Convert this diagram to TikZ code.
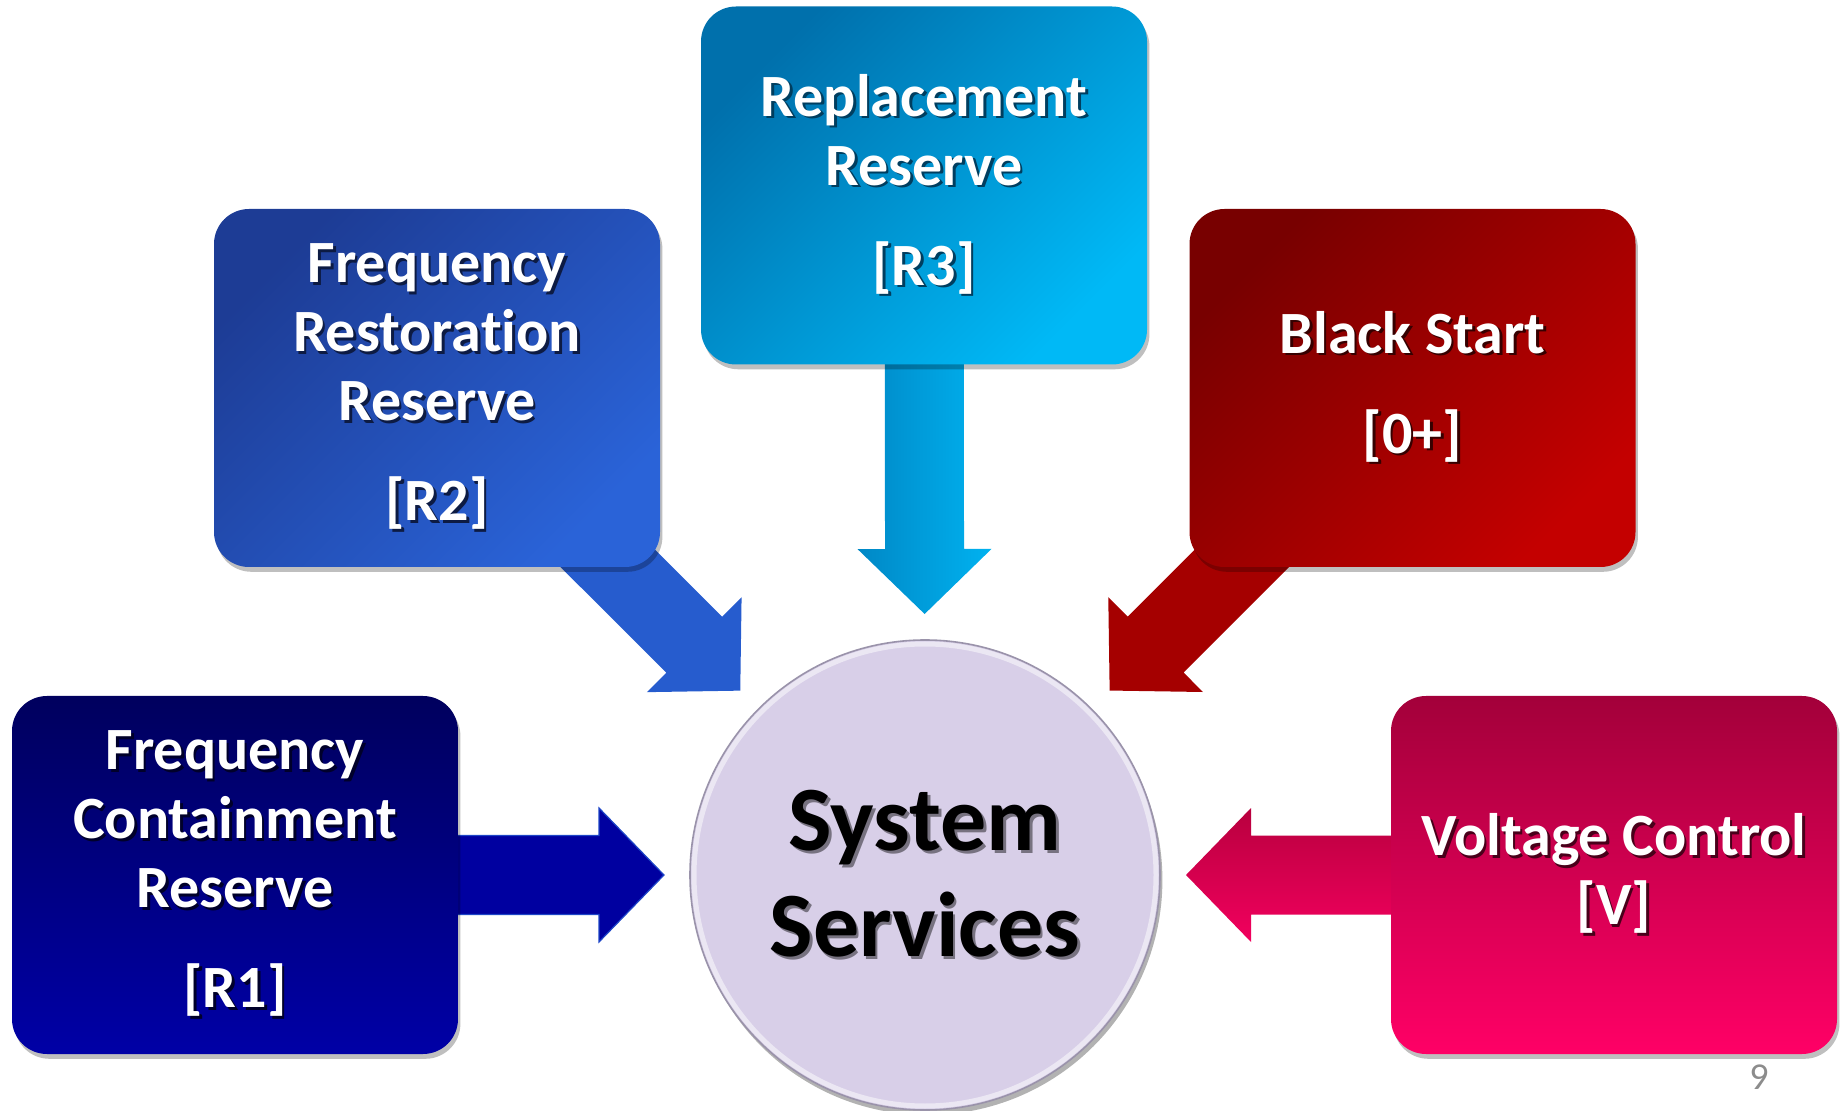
\documentclass[tikz,border=0pt]{standalone}
\usepackage{fontspec}
\setmainfont{Carlito}[Ligatures=NoCommon]
\usetikzlibrary{calc,shadows,backgrounds}
\definecolor{rOneTop}{HTML}{00005E}
\definecolor{rOneBot}{HTML}{0000A6}
\definecolor{rOneArr}{HTML}{0000A0}
\definecolor{rTwoA}{HTML}{1D3C95}
\definecolor{rTwoB}{HTML}{2A63D8}
\definecolor{rTwoArr}{HTML}{265CCE}
\definecolor{rThrA}{HTML}{0070AC}
\definecolor{rThrB}{HTML}{00B9F6}
\definecolor{rThrArrA}{HTML}{0088C6}
\definecolor{rThrArrB}{HTML}{00B2F0}
\definecolor{bsA}{HTML}{780000}
\definecolor{bsB}{HTML}{C40000}
\definecolor{bsArr}{HTML}{A50000}
\definecolor{vTop}{HTML}{A3003A}
\definecolor{vBot}{HTML}{FF0066}
\definecolor{vArrA}{HTML}{B8003E}
\definecolor{vArrB}{HTML}{F2005E}
\definecolor{ssFill}{HTML}{D8CFE8}
\definecolor{ssEdge}{HTML}{9A93AA}
\definecolor{pgnum}{HTML}{8C8C8C}
\colorlet{txtsh}{black!50}
\newcommand\sh[1]{\makebox[0pt][l]{\kern1.3pt\raisebox{-1.3pt}{\textcolor{txtsh}{#1}}}#1}
\newcommand\blockarrow[3]{%
  \coordinate (#2-h) at ($(#2)!32.5pt!(#1)$);
  \path[#3] ($(#1)!19.75pt!90:(#2)$) -- ($(#2-h)!19.75pt!90:(#2)$)
     -- ($(#2-h)!33.5pt!90:(#2)$) -- (#2) -- ($(#2-h)!33.5pt!-90:(#2)$)
     -- ($(#2-h)!19.75pt!-90:(#2)$) -- ($(#1)!19.75pt!-90:(#2)$) -- cycle;
}
\begin{document}
\begin{tikzpicture}[x=0.5pt,y=-0.5pt,
  svcbox/.style={rounded corners=17.5pt, minimum width=223pt, minimum height=179pt,
    inner sep=0pt, text=white, align=center,
    font=\fontsize{30}{34.5}\selectfont\bfseries,
    drop shadow={shadow xshift=1.2pt, shadow yshift=-2.4pt, opacity=0.25, fill=black}},
  shc/.style={execute at begin node={\colorlet{txtsh}{#1}}},
  ssnode/.style={circle, minimum size=235pt, inner sep=0pt, fill=ssFill, draw=ssEdge,
    line width=0.8pt, align=center, font=\fontsize{46}{53}\selectfont\bfseries,
    path picture={\draw[white, opacity=0.5, line width=2.5pt]
      (path picture bounding box.center) circle (115.5pt);},
    drop shadow={shadow xshift=1.2pt, shadow yshift=-2.5pt, opacity=0.3, fill=black}},
  arrowshape/.style={line join=miter}
]
\useasboundingbox (0,0) rectangle (1841,1111);

\node[ssnode, shc=ssFill!55!black] (ss) at (925,875) {\sh{System}\\\sh{Services}};

\node[svcbox, top color=rThrA, bottom color=rThrB, shading angle=45, shc=rThrA!55!black] (r3) at (924,185.5)
  {\sh{Replacement}\\\sh{Reserve}\\[15.5pt]\sh{[R3]}};
\node[svcbox, top color=rTwoA, bottom color=rTwoB, shading angle=45, shc=rTwoA!45!black] (r2) at (437,388)
  {\sh{Frequency}\\\sh{Restoration}\\\sh{Reserve}\\[15.5pt]\sh{[R2]}};
\node[svcbox, top color=bsA, bottom color=bsB, shading angle=45, shc=bsA!45!black] (bs) at (1412.5,388)
  {\sh{Black Start}\\[15.5pt]\sh{[0+]}};
\node[svcbox, top color=rOneTop, bottom color=rOneBot, shc=rOneTop!45!black] (r1) at (235,875)
  {\sh{Frequency}\\\sh{Containment}\\\sh{Reserve}\\[15.5pt]\sh{[R1]}};
\node[svcbox, top color=vTop, bottom color=vBot, shc=vTop!45!black] (v) at (1614,875)
  {\sh{Voltage Control}\\\sh{[V]}};

\node[text=pgnum, font=\fontsize{19}{21}\selectfont] (pg) at (1759,1077) {9};

\coordinate (r1tip) at ($(ss)!130.5pt!(r1)$);
\coordinate (r2tip) at ($(ss)!130.5pt!(r2)$);
\coordinate (r3tip) at ($(ss)!130.5pt!(r3)$);
\coordinate (bstip) at ($(ss)!130.5pt!(bs)$);
\coordinate (vtip) at ($(ss)!130.5pt!(v)$);

\begin{pgfonlayer}{background}
\blockarrow{r1}{r1tip}{arrowshape, fill=rOneArr, draw=rTwoB!70!rOneArr, line width=0.6pt}
\blockarrow{r2}{r2tip}{arrowshape, fill=rTwoArr}
\blockarrow{r3}{r3tip}{arrowshape, left color=rThrArrA, right color=rThrArrB}
\blockarrow{bs}{bstip}{arrowshape, fill=bsArr}
\blockarrow{v}{vtip}{arrowshape, top color=vArrA, bottom color=vArrB}
\end{pgfonlayer}
\end{tikzpicture}
\end{document}
